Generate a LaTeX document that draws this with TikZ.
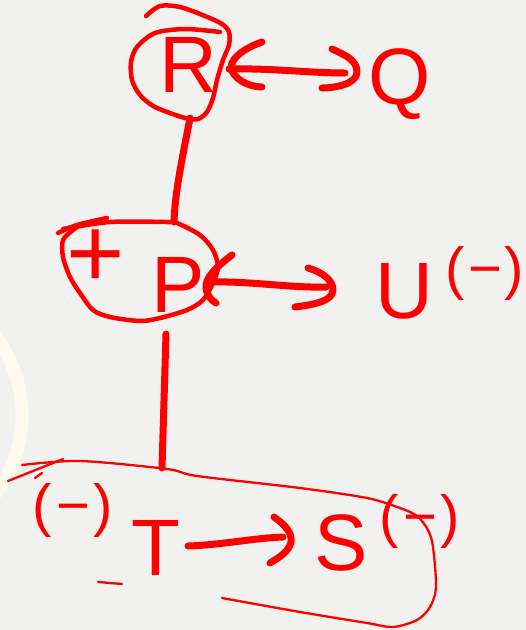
\documentclass[tikz,border=0pt]{standalone}
\usepackage{fontspec}
\setmainfont{Liberation Sans}
\usetikzlibrary{calc}
\definecolor{pen}{RGB}{255,0,0}
\definecolor{paper}{RGB}{241,241,239}
\definecolor{cream}{RGB}{255,250,238}
\begin{document}
\begin{tikzpicture}[x=1pt,y=-1pt,
  letter/.style={text=pen,font=\fontsize{80}{80}\selectfont,inner sep=0pt,anchor=base},
  supm/.style={text=pen,font=\fontsize{58}{58}\selectfont,inner sep=0pt,anchor=center},
  penA/.style={draw=pen,line width=7pt,line cap=round,line join=round},
  penB/.style={draw=pen,line width=4.5pt,line cap=round,line join=round},
  penC/.style={draw=pen,line width=2.3pt,line cap=round,line join=round}]
\fill[paper] (0,0) rectangle (526,630);
\useasboundingbox (0,0) rectangle (526,630);
\draw[cream,line width=13pt] (-108,415) circle[radius=130pt];

% letters
\node[letter] (R) at (188,92) {R};
\node[letter] (Q) at (400,104) {Q};
\node[letter] (P) at (178,312) {P};
\node[letter,font=\fontsize{100}{100}\selectfont] (plus) at (96,287) {+};
\node[letter] (U) at (404,318) {U};
\node[supm] (Um) at (485,273) {(\kern3pt−\kern3pt)};
\node[letter] (T) at (156,575) {T};
\node[supm] (Tm) at (73,510) {(\kern4pt−\kern4pt)};
\node[letter] (S) at (341,570) {S};
\node[supm] (Sm) at (420,521) {(\kern4pt−\kern4pt)};

% ring around R
\draw[penB] plot[smooth] coordinates {(220,32) (185,29) (155,33) (137,47) (131,62) (132,80) (140,95) (155,107) (185,118) (198,119) (207,112) (213,98) (217,80) (223,60) (229,45) (229,32) (222,24) (205,16) (180,7) (160,6) (146,16)};

% ring around + P
\draw[penB] plot[smooth] coordinates {(107,218) (77,225) (58,233)};
\draw[penB] plot[smooth] coordinates {(63,229) (110,222) (167,222) (177,223) (200,235) (213,250) (218,267) (213,283) (203,300) (187,310) (160,318) (140,321) (110,317) (93,310) (80,293) (70,277) (63,257) (63,240) (73,230) (82,224)};

% R <-> Q
\draw[penA] ($(R.base)+(41,-23)$) .. controls (270,68) and (310,73) .. ($(Q.base)+(-55,-31)$);
\draw[penA] (262,42) .. controls (245,48) and (232,57) .. (231,67) .. controls (232,78) and (248,87) .. (262,87);
\draw[penA] (332,49) .. controls (345,55) and (357,60) .. (357,72) .. controls (357,84) and (335,88) .. (322,88);

% R -- P
\draw[penA] ($(R.base)+(2,26)$) .. controls ($(R.base)+(-4,58)$) and ($(P.base)+(-3,-122)$) .. ($(P.base)+(-4,-90)$);

% P <-> U
\draw[penA] ($(P.base)+(34,-30)$) .. controls (250,281) and (290,288) .. ($(U.base)+(-78,-31)$);
\draw[penA] (232,255) .. controls (215,268) and (205,278) .. (206,288) .. controls (207,296) and (211,300) .. (216,303);
\draw[penA] (308,268) .. controls (322,272) and (333,280) .. (333,290) .. controls (333,302) and (310,305) .. (295,307);

% P -- T
\draw[penA] ($(P.base)+(-12,22)$) -- ($(T.base)+(6,-107)$);

% T -> S
\draw[penA] ($(T.base)+(32,-29)$) .. controls (220,545) and (255,538) .. ($(S.base)+(-58,-33)$);
\draw[penA] (274,517) .. controls (285,525) and (292,532) .. (291,542) .. controls (289,552) and (278,558) .. (270,563);

% box around T -> S
\draw[penC] plot[smooth] coordinates {(22,465) (80,461) (167,469) (197,476) (300,488) (367,498) (400,508) (417,516) (428,530) (433,547) (436,587) (430,607) (417,620) (393,627) (367,623) (300,612) (222,598)};
\draw[penC] (8,481) -- (63,459);
\draw[penC] (35,478) -- (42,473);
\draw[penC] (98,582) -- (122,584);
\end{tikzpicture}
\end{document}
